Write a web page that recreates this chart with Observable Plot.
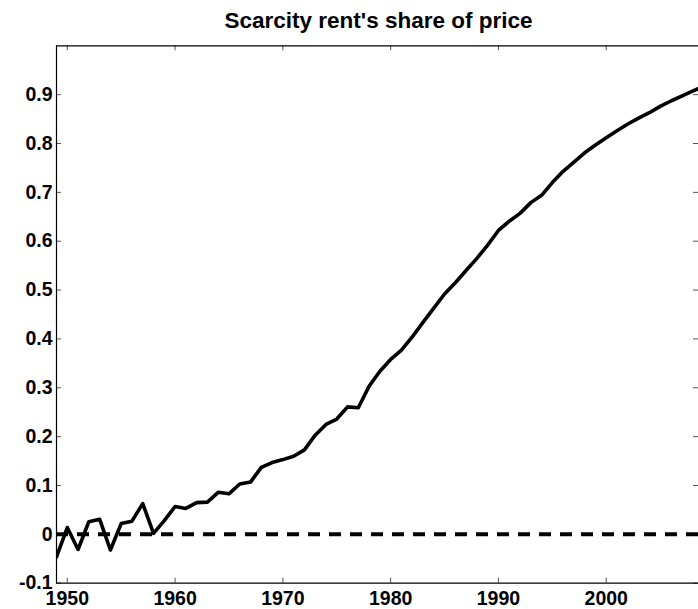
<!DOCTYPE html>
<html>
<head>
<meta charset="utf-8">
<script src="https://cdn.jsdelivr.net/npm/d3@7"></script>
<script src="https://cdn.jsdelivr.net/npm/@observablehq/plot@0.6"></script>
<style>
  html, body { margin: 0; padding: 0; background: #fff; overflow: hidden; }
  #title { position: relative; width: 698px; height: 38px; }
  #title span { position: absolute; left: 378.5px; top: 8px; transform: translateX(-50%); white-space: nowrap;
    font-family: "Liberation Sans", Arial, sans-serif; font-size: 22.5px; font-weight: bold; color: #000; line-height: normal; }
  #chart svg { display: block; }
</style>
</head>
<body>
<div id="title"><span>Scarcity rent's share of price</span></div>
<div id="chart"></div>
<script>
const years = d3.range(1949, 2010);
const rentShare = [
  -0.046, 0.014, -0.031, 0.026, 0.031, -0.032, 0.022, 0.027, 0.063, 0.002,
  0.028, 0.057, 0.053, 0.065, 0.066, 0.086, 0.083, 0.103, 0.107, 0.137,
  0.147, 0.153, 0.160, 0.173, 0.203, 0.225, 0.236, 0.261, 0.259, 0.303,
  0.334, 0.358, 0.377, 0.404, 0.434, 0.463, 0.492, 0.515, 0.540, 0.565,
  0.592, 0.622, 0.641, 0.657, 0.679, 0.694, 0.720, 0.743, 0.762, 0.781,
  0.797, 0.812, 0.826, 0.840, 0.852, 0.863, 0.876, 0.887, 0.897, 0.907,
  0.917
];
const xTicks = [1950, 1960, 1970, 1980, 1990, 2000];
const yTicks = [-0.1, 0, 0.1, 0.2, 0.3, 0.4, 0.5, 0.6, 0.7, 0.8, 0.9];
const xDomain = [1949, 2008.56];
const yDomain = [-0.1, 1.0];
const zeroLine = [0];

const data = years.map((y, i) => ({year: y, value: rentShare[i]}));

const W = 698, H = 571, mL = 56, mR = 0, mT = 7.3, mB = 26.3;
const fw = W - mL - mR, fh = H - mT - mB;
const tk = 5;

const chart = Plot.plot({
  width: W,
  height: H,
  marginLeft: mL,
  marginRight: mR,
  marginTop: mT,
  marginBottom: mB,
  style: {fontFamily: "'Liberation Sans', Arial, sans-serif", fontSize: "19.5px", fontWeight: "bold", color: "#000", background: "#fff"},
  x: {domain: xDomain},
  y: {domain: yDomain},
  marks: [
    // inward tick marks
    Plot.tickY(yTicks, {y: d => d, insetRight: fw - tk, stroke: "#555", strokeWidth: 1}),
    Plot.tickY(yTicks, {y: d => d, insetLeft: fw - tk, stroke: "#555", strokeWidth: 1}),
    Plot.tickX(xTicks, {x: d => d, insetTop: fh - tk, stroke: "#555", strokeWidth: 1}),
    Plot.tickX(xTicks, {x: d => d, insetBottom: fh - tk, stroke: "#555", strokeWidth: 1}),
    // frame
    Plot.ruleX([xDomain[0]], {stroke: "#000", strokeWidth: 1.2}),
    Plot.ruleY([yDomain[0], yDomain[1]], {stroke: "#000", strokeWidth: 1.2}),
    // axes labels
    Plot.axisY({ticks: yTicks, tickSize: 0, tickPadding: 4, tickFormat: d => d === 0 ? "0" : d.toFixed(1), label: null}),
    Plot.axisX({ticks: xTicks, tickSize: 0, tickPadding: 8, tickFormat: d => String(d), label: null}),
    // zero dashed line
    Plot.ruleY(zeroLine, {stroke: "#000", strokeWidth: 4, strokeDasharray: "12,9"}),
    // series
    Plot.line(data, {x: "year", y: "value", stroke: "#000", strokeWidth: 3.6, strokeLinejoin: "round", clip: true})
  ]
});
document.getElementById("chart").appendChild(chart);
</script>
</body>
</html>
